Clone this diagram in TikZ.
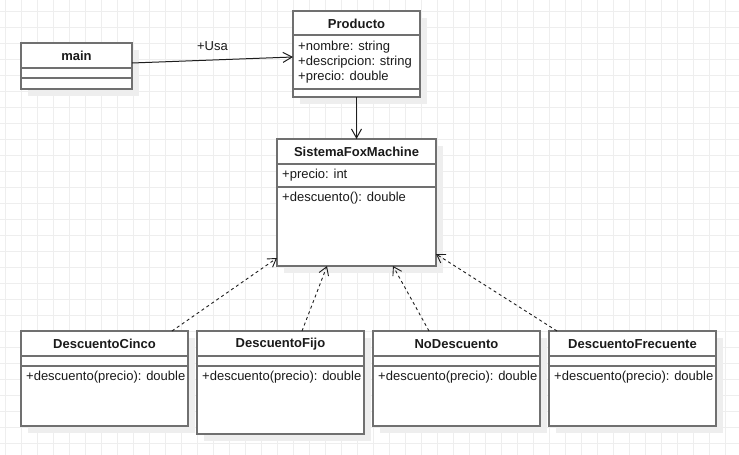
\documentclass[tikz,border=0pt]{standalone}
\usepackage{fontspec}
\setmainfont{Liberation Sans}
\usetikzlibrary{arrows.meta,shadows}
\definecolor{gridc}{HTML}{EEEEEE}
\definecolor{boxc}{HTML}{707070}
\definecolor{shadowc}{HTML}{EEEEEE}
\definecolor{linec}{HTML}{1E1E1E}
\definecolor{txtc}{HTML}{1A1A1A}
\begin{document}
\begin{tikzpicture}[x=1pt,y=-1pt,
  classbox/.style={draw=boxc, line width=1.5pt, fill=white, rectangle, anchor=north west,
    inner sep=0pt, outer sep=0pt,
    drop shadow={shadow xshift=7pt, shadow yshift=-7pt, fill=shadowc, opacity=1}},
  sepline/.style={draw=boxc, line width=1.5pt},
  ctitle/.style={font=\fontsize{13}{15}\selectfont\bfseries, text=txtc, inner sep=0pt},
  cattr/.style={font=\fontsize{13}{15}\selectfont, text=txtc, inner sep=0pt, anchor=west},
  assoc/.style={draw=linec, line width=1pt, -{Straight Barb[length=9pt,width=10pt,line width=1pt]}},
  realize/.style={draw=linec, line width=0.9pt, dash pattern=on 3pt off 3pt,
    -{Straight Barb[length=8pt,width=10pt,line width=0.9pt]}}
]
\useasboundingbox (0,0) rectangle (739,455);
\fill[white] (0,0) rectangle (739,455);
% grid
\foreach \i in {0,...,46} \draw[gridc, line width=1pt] (5.3+16*\i,0) -- (5.3+16*\i,455);
\foreach \j in {0,...,28} \draw[gridc, line width=1pt] (0,11.3+16*\j) -- (739,11.3+16*\j);

% main
\node[classbox, minimum width=111pt, minimum height=46pt] (main) at (21,43) {};
\draw[sepline] ([yshift=-25pt]main.north west) -- ([yshift=-25pt]main.north east);
\draw[sepline] ([yshift=-35pt]main.north west) -- ([yshift=-35pt]main.north east);
\node[ctitle] (maint) at ([yshift=-13pt]main.north) {main};

% Producto
\node[classbox, minimum width=127pt, minimum height=86pt] (prod) at (293,11) {};
\draw[sepline] ([yshift=-24pt]prod.north west) -- ([yshift=-24pt]prod.north east);
\draw[sepline] ([yshift=-78pt]prod.north west) -- ([yshift=-78pt]prod.north east);
\node[ctitle] (prodt) at ([yshift=-12.5pt]prod.north) {Producto};
\node[cattr] (proda1) at ([xshift=5pt,yshift=-36pt]prod.north west) {+nombre: string};
\node[cattr] (proda2) at ([xshift=5pt,yshift=-51pt]prod.north west) {+descripcion: string};
\node[cattr] (proda3) at ([xshift=5pt,yshift=-66pt]prod.north west) {+precio: double};

% SistemaFoxMachine
\node[classbox, minimum width=159pt, minimum height=127pt] (sis) at (277,139) {};
\draw[sepline] ([yshift=-25pt]sis.north west) -- ([yshift=-25pt]sis.north east);
\draw[sepline] ([yshift=-48pt]sis.north west) -- ([yshift=-48pt]sis.north east);
\node[ctitle] (sist) at ([yshift=-13pt]sis.north) {SistemaFoxMachine};
\node[cattr] (sisa) at ([xshift=5pt,yshift=-36pt]sis.north west) {+precio: int};
\node[cattr] (sism) at ([xshift=5pt,yshift=-59pt]sis.north west) {+descuento(): double};

% bottom classes
\node[classbox, minimum width=167pt, minimum height=95pt] (cinco) at (21,331) {};
\node[classbox, minimum width=167pt, minimum height=103pt] (fijo) at (197,331) {};
\node[classbox, minimum width=167pt, minimum height=95pt] (nodesc) at (373,331) {};
\node[classbox, minimum width=167pt, minimum height=95pt] (frec) at (549,331) {};
\foreach \b/\t in {cinco/DescuentoCinco, fijo/DescuentoFijo, nodesc/NoDescuento, frec/DescuentoFrecuente}{
  \draw[sepline] ([yshift=-25pt]\b.north west) -- ([yshift=-25pt]\b.north east);
  \draw[sepline] ([yshift=-35pt]\b.north west) -- ([yshift=-35pt]\b.north east);
  \node[ctitle] (\b t) at ([yshift=-13pt]\b.north) {\t};
  \node[cattr] (\b m) at ([xshift=5pt,yshift=-46.5pt]\b.north west) {+descuento(precio): double};
}

% connectors
\draw[assoc] ([yshift=3pt]main.east) -- node[midway, above=9pt, font=\fontsize{13}{15}\selectfont, text=txtc, inner sep=0pt] (usa) {+Usa} ([yshift=-3pt]prod.west);
\draw[assoc] (prod.south) -- (sis.north);
\draw[realize] ([xshift=67.5pt]cinco.north) -- ([yshift=8pt]sis.south west);
\draw[realize] ([xshift=21.5pt]fijo.north) -- ([xshift=-29.5pt]sis.south);
\draw[realize] ([xshift=-27.5pt]nodesc.north) -- ([xshift=36.5pt]sis.south);
\draw[realize] ([xshift=-75.5pt]frec.north) -- ([yshift=12pt]sis.south east);
\end{tikzpicture}
\end{document}
